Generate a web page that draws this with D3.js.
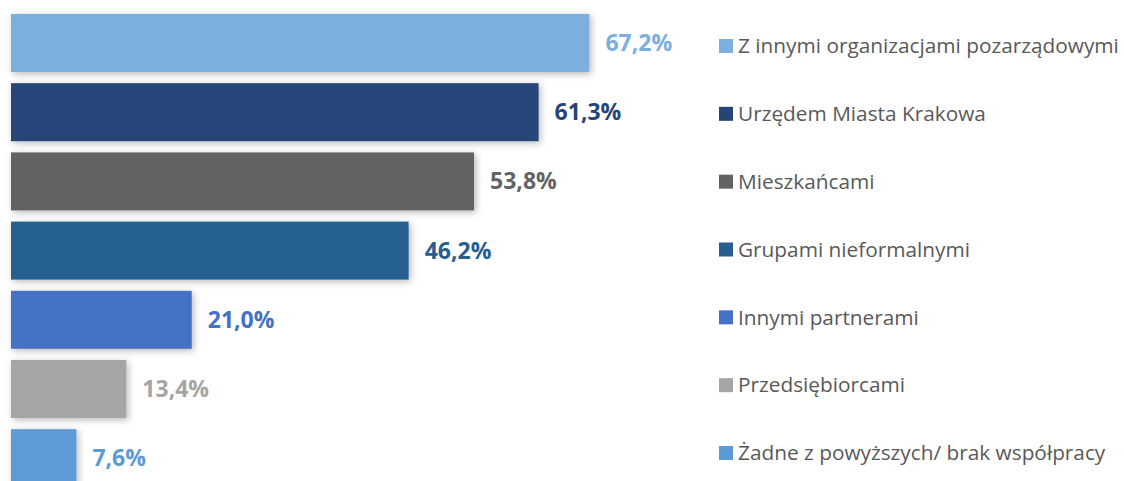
<!DOCTYPE html>
<html>
<head>
<meta charset="utf-8">
<script src="https://cdn.jsdelivr.net/npm/d3@7"></script>
<style>
  body { margin: 0; background: #fff; }
  svg { display: block; }
</style>
</head>
<body>
<div id="chart"></div>
<script>
var categories = [
    'Z innymi organizacjami pozarządowymi',
    'Urzędem Miasta Krakowa',
    'Mieszkańcami',
    'Grupami nieformalnymi',
    'Innymi partnerami',
    'Przedsiębiorcami',
    'Żadne z powyższych/ brak współpracy'
];
var values = [67.2, 61.3, 53.8, 46.2, 21.0, 13.4, 7.6];
var colors = ['#7cafde', '#264478', '#636363', '#255e91', '#4472c4', '#a5a5a5', '#5b9bd5'];

var width = 1124,
    height = 481;

var svg = d3.select('#chart').append('svg')
    .attr('width', width)
    .attr('height', height);

var defs = svg.append('defs');
var shadow = defs.append('filter')
    .attr('id', 'shadow')
    .attr('x', '-10%').attr('y', '-30%')
    .attr('width', '130%').attr('height', '170%');
shadow.append('feDropShadow')
    .attr('dx', 2).attr('dy', 2)
    .attr('stdDeviation', 3.5)
    .attr('flood-color', '#000')
    .attr('flood-opacity', 0.28);

var x = d3.scaleLinear()
    .domain([0, 100])
    .range([11, 871.7]);

var y = d3.scaleBand()
    .domain(categories)
    .range([14, 487.2])
    .paddingInner(0.162)
    .paddingOuter(0);

var color = d3.scaleOrdinal()
    .domain(categories)
    .range(colors);

var fmt = function(v) { return d3.format('.1f')(v).replace('.', ',') + '%'; };

var data = categories.map(function(c, i) { return { label: c, value: values[i] }; });

svg.append('g').selectAll('rect')
    .data(data)
    .enter()
    .append('rect')
    .attr('x', x(0))
    .attr('y', function(d) { return y(d.label); })
    .attr('width', function(d) { return x(d.value) - x(0); })
    .attr('height', y.bandwidth())
    .attr('fill', function(d) { return color(d.label); })
    .attr('filter', 'url(#shadow)');

svg.append('g').selectAll('text')
    .data(data)
    .enter()
    .append('text')
    .attr('x', function(d) { return x(d.value) + 16; })
    .attr('y', function(d) { return y(d.label) + y.bandwidth() / 2; })
    .attr('dy', '0.35em')
    .style('font-family', '"Open Sans", sans-serif')
    .style('font-weight', 'bold')
    .style('font-size', '23px')
    .attr('fill', function(d) { return color(d.label); })
    .text(function(d) { return fmt(d.value); });

// legend
var legendY = d3.scalePoint()
    .domain(categories)
    .range([46, 453]);

var legend = svg.append('g').selectAll('.legend')
    .data(categories)
    .enter()
    .append('g')
    .attr('class', 'legend')
    .attr('transform', function(d) { return 'translate(719,' + legendY(d) + ')'; });

legend.append('rect')
    .attr('x', 0)
    .attr('y', -7)
    .attr('width', 14)
    .attr('height', 14)
    .attr('fill', color);

legend.append('text')
    .attr('x', 19)
    .attr('y', 0)
    .attr('dy', '0.35em')
    .style('font-family', '"Open Sans", sans-serif')
    .style('font-size', '20.8px')
    .attr('fill', '#595959')
    .text(function(d) { return d; });
</script>
</body>
</html>
